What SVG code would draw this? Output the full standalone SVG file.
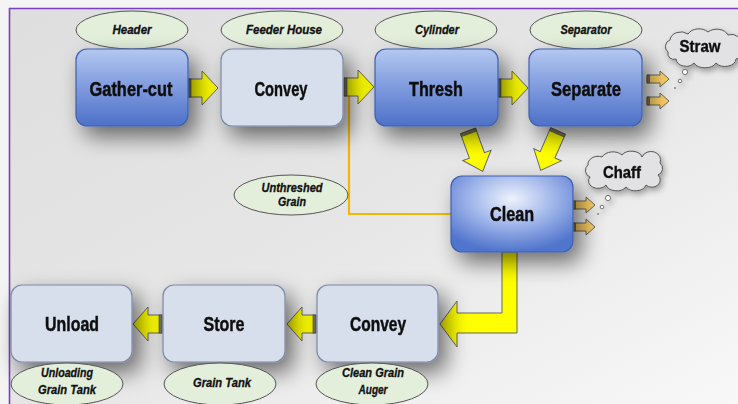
<svg xmlns="http://www.w3.org/2000/svg" width="738" height="404" viewBox="0 0 738 404">
<defs>
  <linearGradient id="bg" x1="0" y1="0" x2="1" y2="1">
    <stop offset="0" stop-color="#dedede"/>
    <stop offset="0.5" stop-color="#e6e6e6"/>
    <stop offset="1" stop-color="#f8f8f8"/>
  </linearGradient>
  <linearGradient id="blue" x1="0" y1="0" x2="0" y2="1">
    <stop offset="0" stop-color="#b4c8f0"/>
    <stop offset="0.45" stop-color="#849fe0"/>
    <stop offset="1" stop-color="#4d70c8"/>
  </linearGradient>
  <radialGradient id="blueR" cx="0.5" cy="0.3" r="0.7">
    <stop offset="0" stop-color="#eef2fc"/>
    <stop offset="0.5" stop-color="#9fb5ea"/>
    <stop offset="1" stop-color="#5074cc"/>
  </radialGradient>
  <filter id="sh" x="-40%" y="-40%" width="190%" height="190%">
    <feGaussianBlur in="SourceAlpha" stdDeviation="11"/>
    <feOffset dx="8" dy="10" result="b"/>
    <feComponentTransfer><feFuncA type="linear" slope="0.55"/></feComponentTransfer>
    <feMerge><feMergeNode/><feMergeNode in="SourceGraphic"/></feMerge>
  </filter>
  <filter id="sh2" x="-30%" y="-30%" width="170%" height="170%">
    <feGaussianBlur in="SourceAlpha" stdDeviation="3"/>
    <feOffset dx="2" dy="3" result="b"/>
    <feComponentTransfer><feFuncA type="linear" slope="0.35"/></feComponentTransfer>
    <feMerge><feMergeNode/><feMergeNode in="SourceGraphic"/></feMerge>
  </filter>
  <path id="ar" d="M0,-9 H14 V-17 L30,0 L14,17 V9 H0 Z"/>
  <path id="al" d="M0,-9 H-14 V-17 L-29,0 L-14,17 V9 H0 Z"/>
  <path id="ad" d="M-8,0 H8 V26 H15 L0,43 L-15,26 H-8 Z"/>
  <path id="sa" d="M0,-4 H13 V-8 L22,0 L13,8 V4 H0 Z"/>
</defs>
<style>
  .blue{fill:url(#blue);stroke:#3f5fae;stroke-width:1.2}
  .blueR{fill:url(#blueR);stroke:#3f5fae;stroke-width:1.2}
  .light{fill:#d7dfec;stroke:#7b88a6;stroke-width:1.2}
  .ell{fill:#e3eedb;stroke:#555;stroke-width:1}
  .cloud{fill:#e2e2e4;stroke:#555;stroke-width:1}
  .yarrow{fill:#ffff00;stroke:#666;stroke-width:1}
  .oarrow{fill:#fdd062;stroke:#666;stroke-width:1}
  .stripe{fill:#7a7a5a;stroke:#444;stroke-width:0.6}
  .lbl{font-family:"Liberation Sans",Arial,sans-serif;font-weight:bold;font-size:21px;fill:#111;stroke:#111;stroke-width:0.5;text-anchor:middle}
  .sub{font-family:"Liberation Sans",Arial,sans-serif;font-weight:bold;font-style:italic;font-size:12px;fill:#111;stroke:#111;stroke-width:0.3;text-anchor:middle}
  .cl{font-family:"Liberation Sans",Arial,sans-serif;font-weight:bold;font-size:17px;fill:#111;stroke:#111;stroke-width:0.4;text-anchor:middle}
</style>
<rect x="0" y="0" width="738" height="404" fill="#f4f4f4"/>
<rect x="9" y="8" width="729" height="396" fill="url(#bg)"/>
<line x1="9" y1="8.5" x2="738" y2="8.5" stroke="#7a3fbe" stroke-width="1.6"/>
<line x1="9.5" y1="8" x2="9.5" y2="404" stroke="#7a3fbe" stroke-width="1.6"/>

<g id="connectors">
  <path d="M349,95 V214 H452" fill="none" stroke="#f2b705" stroke-width="2.2"/>
  <g><use href="#ar" class="yarrow" transform="translate(188,88)"/><rect class="stripe" x="188" y="79" width="3" height="18"/></g>
  <g><use href="#ar" class="yarrow" transform="translate(344,87)"/><rect class="stripe" x="344" y="78" width="3" height="18"/></g>
  <g><use href="#ar" class="yarrow" transform="translate(498,88)"/><rect class="stripe" x="498" y="79" width="3" height="18"/></g>
  <g transform="translate(468,131) rotate(-20)"><use href="#ad" class="yarrow"/><rect class="stripe" x="-8" y="0" width="16" height="3"/></g>
  <g transform="translate(558,131) rotate(23.7)"><use href="#ad" class="yarrow"/><rect class="stripe" x="-8" y="0" width="16" height="3"/></g>
  <g><use href="#sa" class="oarrow" transform="translate(647,79)"/><rect class="stripe" x="647" y="75" width="2.5" height="8"/></g>
  <g><use href="#sa" class="oarrow" transform="translate(647,101)"/><rect class="stripe" x="647" y="97" width="2.5" height="8"/></g>
  <g><use href="#sa" class="oarrow" transform="translate(573,205)"/><rect class="stripe" x="573" y="201" width="2.5" height="8"/></g>
  <g><use href="#sa" class="oarrow" transform="translate(573,227)"/><rect class="stripe" x="573" y="223" width="2.5" height="8"/></g>
  <path class="yarrow" d="M502,252 H517 V333 H457 V347 L440,324 L457,301 V313 H502 Z"/>
  <g><use href="#al" class="yarrow" transform="translate(162,324)"/><rect class="stripe" x="159" y="315" width="3" height="18"/></g>
  <g><use href="#al" class="yarrow" transform="translate(316,324)"/><rect class="stripe" x="313" y="315" width="3" height="18"/></g>
</g>

<g id="header"><ellipse class="ell" cx="132" cy="30" rx="56" ry="19"/><text class="sub" x="132" y="34" textLength="39" lengthAdjust="spacingAndGlyphs">Header</text></g>
<g id="feeder-house"><ellipse class="ell" cx="282" cy="30" rx="61" ry="19"/><text class="sub" x="284" y="34" textLength="76" lengthAdjust="spacingAndGlyphs">Feeder House</text></g>
<g id="cylinder"><ellipse class="ell" cx="436" cy="30" rx="61" ry="19"/><text class="sub" x="437" y="34" textLength="44" lengthAdjust="spacingAndGlyphs">Cylinder</text></g>
<g id="separator"><ellipse class="ell" cx="586" cy="30" rx="56" ry="19"/><text class="sub" x="586" y="34" textLength="51" lengthAdjust="spacingAndGlyphs">Separator</text></g>

<g id="gather-cut" filter="url(#sh)"><rect class="blue" x="76" y="49" width="112" height="77" rx="11"/><text class="lbl" x="131" y="96" textLength="83" lengthAdjust="spacingAndGlyphs">Gather-cut</text></g>
<g id="convey-top" filter="url(#sh)"><rect class="light" x="221" y="49" width="122" height="77" rx="11"/><text class="lbl" x="281" y="96" textLength="53" lengthAdjust="spacingAndGlyphs">Convey</text></g>
<g id="thresh" filter="url(#sh)"><rect class="blue" x="375" y="49" width="123" height="77" rx="11"/><text class="lbl" x="436" y="96" textLength="54" lengthAdjust="spacingAndGlyphs">Thresh</text></g>
<g id="separate" filter="url(#sh)"><rect class="blue" x="529" y="49" width="113" height="77" rx="11"/><text class="lbl" x="586" y="96" textLength="70" lengthAdjust="spacingAndGlyphs">Separate</text></g>

<g id="straw" filter="url(#sh2)">
  <path class="cloud" d="M668,52 a7,7 0 0 1 2,-12 a11,9 0 0 1 18,-6 a12,9 0 0 1 20,-2 a12,9 0 0 1 20,3 a9,8 0 0 1 12,10 a8,8 0 0 1 -4,14 a11,8 0 0 1 -20,4 a12,8 0 0 1 -22,0 a10,8 0 0 1 -18,-4 a6,6 0 0 1 -8,-7 z"/>
  <text class="cl" x="700" y="52" textLength="41" lengthAdjust="spacingAndGlyphs">Straw</text>
  <circle cx="685" cy="72" r="2.6" fill="#fff" stroke="#555" stroke-width="0.8"/>
  <circle cx="680" cy="81" r="1.8" fill="#fff" stroke="#555" stroke-width="0.8"/>
  <circle cx="675" cy="88" r="1.1" fill="#888"/>
</g>

<g id="unthreshed-grain"><ellipse class="ell" cx="291" cy="195" rx="57" ry="20"/><text class="sub" x="292" y="192" textLength="61" lengthAdjust="spacingAndGlyphs">Unthreshed</text><text class="sub" x="292" y="206" textLength="28" lengthAdjust="spacingAndGlyphs">Grain</text></g>

<g id="clean" filter="url(#sh)"><rect class="blueR" x="451" y="176" width="122" height="76" rx="11"/><text class="lbl" x="512" y="221" textLength="44" lengthAdjust="spacingAndGlyphs">Clean</text></g>

<g id="chaff" filter="url(#sh2)">
  <path class="cloud" d="M590,177 a7,7 0 0 1 -2,-12 a10,8 0 0 1 14,-8 a12,9 0 0 1 20,-2 a11,8 0 0 1 20,2 a9,8 0 0 1 18,6 a7,7 0 0 1 -2,12 a8,7 0 0 1 -12,10 a11,8 0 0 1 -20,2 a11,8 0 0 1 -20,-2 a9,7 0 0 1 -16,-8 z"/>
  <text class="cl" x="622" y="178" textLength="38" lengthAdjust="spacingAndGlyphs">Chaff</text>
  <circle cx="608" cy="198" r="2.6" fill="#fff" stroke="#555" stroke-width="0.8"/>
  <circle cx="602" cy="207" r="1.8" fill="#fff" stroke="#555" stroke-width="0.8"/>
  <circle cx="598" cy="214" r="1.1" fill="#888"/>
</g>

<g id="unload" filter="url(#sh)"><rect class="light" x="11" y="285" width="121" height="77" rx="11"/><text class="lbl" x="72" y="331" textLength="54" lengthAdjust="spacingAndGlyphs">Unload</text></g>
<g id="store" filter="url(#sh)"><rect class="light" x="163" y="285" width="122" height="77" rx="11"/><text class="lbl" x="224" y="331" textLength="41" lengthAdjust="spacingAndGlyphs">Store</text></g>
<g id="convey-bottom" filter="url(#sh)"><rect class="light" x="317" y="285" width="121" height="77" rx="11"/><text class="lbl" x="378" y="331" textLength="56" lengthAdjust="spacingAndGlyphs">Convey</text></g>

<g id="unloading-grain-tank"><ellipse class="ell" cx="67" cy="384" rx="56" ry="21"/><text class="sub" x="67" y="377" textLength="52" lengthAdjust="spacingAndGlyphs">Unloading</text><text class="sub" x="67" y="394" textLength="58" lengthAdjust="spacingAndGlyphs">Grain Tank</text></g>
<g id="grain-tank"><ellipse class="ell" cx="220" cy="384" rx="56" ry="21"/><text class="sub" x="222" y="387" textLength="58" lengthAdjust="spacingAndGlyphs">Grain Tank</text></g>
<g id="clean-grain-auger"><ellipse class="ell" cx="372" cy="384" rx="56" ry="21"/><text class="sub" x="373" y="377" textLength="62" lengthAdjust="spacingAndGlyphs">Clean Grain</text><text class="sub" x="373" y="394" textLength="29" lengthAdjust="spacingAndGlyphs">Auger</text></g>
</svg>
